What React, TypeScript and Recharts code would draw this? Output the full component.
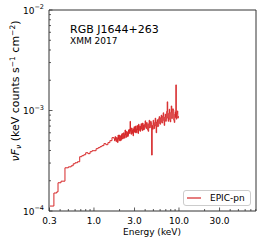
import { LineChart, Line, XAxis, YAxis, Legend, ReferenceArea } from 'recharts';

// spectrum (keV, keV counts s^-1 cm^-2)
const energy = [
  0.303, 0.338, 0.365, 0.378, 0.41, 0.456, 0.5, 0.54, 0.57, 0.6, 0.64, 0.68, 0.72, 0.76, 0.8, 0.85, 0.9, 0.95,
  1.0, 1.06, 1.12, 1.18, 1.24, 1.31, 1.38, 1.46, 1.54, 1.63,
  1.72, 1.745, 1.77, 1.795, 1.82, 1.845, 1.87, 1.895, 1.92, 1.945,
  1.97, 1.995, 2.02, 2.05, 2.08, 2.11, 2.14, 2.17, 2.2, 2.23,
  2.26, 2.29, 2.32, 2.35, 2.38, 2.41, 2.45, 2.48, 2.52, 2.55,
  2.59, 2.62, 2.66, 2.69, 2.73, 2.77, 2.81, 2.84, 2.88, 2.92,
  2.96, 3.0, 3.04, 3.08, 3.13, 3.17, 3.21, 3.25, 3.3, 3.34,
  3.39, 3.44, 3.49, 3.53, 3.58, 3.63, 3.68, 3.73, 3.78, 3.83,
  3.89, 3.94, 4.0, 4.05, 4.11, 4.16, 4.22, 4.28, 4.34, 4.4,
  4.46, 4.52, 4.58, 4.64, 4.71, 4.77, 4.84, 4.9, 4.97, 5.04,
  5.11, 5.18, 5.25, 5.32, 5.39, 5.46, 5.54, 5.61, 5.69, 5.77,
  5.85, 5.93, 6.01, 6.09, 6.18, 6.26, 6.35, 6.43, 6.52, 6.61,
  6.7, 6.79, 6.89, 6.98, 7.08, 7.17, 7.27, 7.37, 7.47, 7.57,
  7.68, 7.78, 7.89, 8.0, 8.11, 8.22, 8.33, 8.44, 8.56, 8.68,
  8.8, 8.92, 9.04, 9.12, 9.2, 9.29, 9.42, 9.55, 9.68, 9.81,
  10.0,
];
const flux = [
  1.12e-4, 1.51e-4, 1.55e-4, 1.91e-4, 1.98e-4, 2.69e-4, 2.75e-4, 2.82e-4, 2.95e-4, 3.02e-4, 3.09e-4, 3.47e-4,
  3.55e-4, 3.63e-4, 3.8e-4, 3.72e-4, 3.89e-4, 3.98e-4,
  3.98e-4, 4.17e-4, 4.27e-4, 4.37e-4, 4.47e-4, 4.68e-4, 4.57e-4, 4.79e-4, 5.01e-4, 5.37e-4,
  5.25e-4, 5.0e-4, 5.5e-4, 5.1e-4, 4.9e-4, 5.4e-4, 5.3e-4, 4.8e-4, 5.7e-4, 5.2e-4,
  5.0e-4, 5.7e-4, 5.6e-4, 5.0e-4, 5.1e-4, 5.8e-4, 5.9e-4, 5.2e-4, 5.3e-4, 6.0e-4,
  5.8e-4, 5.3e-4, 6.4e-4, 5.7e-4, 5.4e-4, 6.2e-4, 6.1e-4, 5.5e-4, 5.6e-4, 6.4e-4,
  6.5e-4, 5.9e-4, 7.8e-4, 6.2e-4, 5.8e-4, 6.7e-4, 6.5e-4, 5.9e-4, 5.6e-4, 6.6e-4,
  6.9e-4, 6.1e-4, 6.0e-4, 7.0e-4, 6.6e-4, 6.0e-4, 7.1e-4, 6.4e-4, 5.9e-4, 7.3e-4,
  7.0e-4, 6.3e-4, 6.2e-4, 7.0e-4, 7.4e-4, 6.5e-4, 6.3e-4, 7.5e-4, 7.2e-4, 6.4e-4,
  6.5e-4, 7.3e-4, 7.9e-4, 6.8e-4, 6.6e-4, 7.6e-4, 7.3e-4, 6.4e-4, 6.2e-4, 7.4e-4,
  8.0e-4, 6.7e-4, 6.9e-4, 7.8e-4, 7.5e-4, 3.6e-4, 7.1e-4, 6.5e-4, 8.0e-4, 7.2e-4,
  6.6e-4, 7.6e-4, 8.4e-4, 7.0e-4, 6.0e-4, 7.7e-4, 8.1e-4, 6.9e-4, 7.0e-4, 8.3e-4,
  8.7e-4, 7.4e-4, 7.3e-4, 8.5e-4, 9.0e-4, 7.6e-4, 7.5e-4, 8.8e-4, 9.5e-4, 7.9e-4,
  7.1e-4, 8.6e-4, 9.2e-4, 7.8e-4, 8.2e-4, 9.8e-4, 1.22e-3, 8.4e-4, 7.8e-4, 9.4e-4,
  1.03e-3, 8.1e-4, 7.7e-4, 9.6e-4, 1.11e-3, 8.3e-4, 8.5e-4, 1.04e-3, 1.01e-3, 8.0e-4,
  7.6e-4, 9.2e-4, 9.7e-4, 8.5e-4, 1.8e-3, 8.2e-4, 9.3e-4, 9.9e-4, 8.4e-4, 8.7e-4,
  8.7e-4,
];

const xTicks = [0.3, 0.4, 0.5, 0.6, 0.7, 0.8, 0.9, 1, 2, 3, 4, 5, 6, 7, 8, 9, 10, 20, 30, 40, 50, 60, 70, 80];
const xMajor = [0.3, 1, 3, 10, 30];
const xLabels = ['0.3', '1.0', '3.0', '10.0', '30.0'];
const yTicks = [
  1e-4, 2e-4, 3e-4, 4e-4, 5e-4, 6e-4, 7e-4, 8e-4, 9e-4,
  1e-3, 2e-3, 3e-3, 4e-3, 5e-3, 6e-3, 7e-3, 8e-3, 9e-3, 1e-2,
];
const yMajor = [1e-4, 1e-3, 1e-2];
const yExps = ['−4', '−3', '−2'];

const data = energy.map((e, i) => ({ energy: e, flux: flux[i] }));

const XTick = ({ x, y, payload }) => {
  const k = xMajor.findIndex((v) => Math.abs(v - payload.value) < 1e-9);
  return (
    <g>
      <line x1={x} x2={x} y1={y} y2={y - (k >= 0 ? 3.5 : 2)} stroke="#333" strokeWidth={0.8} />
      {k >= 0 && (
        <text x={x} y={y + 13} textAnchor="middle" fontSize={9} fill="#000">{xLabels[k]}</text>
      )}
    </g>
  );
};

const YTick = ({ x, y, payload }) => {
  const k = yMajor.findIndex((v) => Math.abs(v - payload.value) / v < 1e-6);
  return (
    <g>
      <line x1={x} x2={x + (k >= 0 ? 3.5 : 2)} y1={y} y2={y} stroke="#333" strokeWidth={0.8} />
      {k >= 0 && (
        <text x={x - 5} y={y + 3.5} textAnchor="end" fontSize={9} fill="#000">
          10<tspan dy={-4.5} fontSize={6.5}>{yExps[k]}</tspan>
        </text>
      )}
    </g>
  );
};

const LegendBox = () => (
  <div style={{
    width: 68, height: 16, boxSizing: 'border-box', border: '1px solid #ccc', borderRadius: 3,
    background: '#fff', display: 'flex', alignItems: 'center', fontSize: 9, color: '#000',
  }}>
    <svg width={26} height={14}>
      <line x1={3} x2={17} y1={7} y2={7} stroke="#d62728" strokeWidth={1.2} />
    </svg>
    <span>EPIC-pn</span>
  </div>
);

export default function App() {
  return (
    <div style={{ position: 'relative', width: 266, height: 246, fontFamily: '"DejaVu Sans", sans-serif' }}>
      <style>{'body { margin: 0; }'}</style>
      <LineChart width={266} height={246} data={data} margin={{ top: 10, right: 10, left: 0, bottom: 0 }}>
        <XAxis dataKey="energy" type="number" scale="log" domain={[0.296, 80.5]} allowDataOverflow
          ticks={xTicks} interval={0} tick={<XTick />} tickLine={false} axisLine={false}
          tickSize={0} tickMargin={0} height={35} />
        <YAxis type="number" scale="log" domain={[1e-4, 1e-2]} allowDataOverflow
          ticks={yTicks} interval={0} tick={<YTick />} tickLine={false} axisLine={false}
          tickSize={0} tickMargin={0} width={49} />
        <ReferenceArea x1={0.296} x2={80.5} y1={1e-4} y2={1e-2} fill="none" stroke="#333" strokeWidth={1} />
        <Line type="stepAfter" dataKey="flux" stroke="#d62728" strokeWidth={1} dot={false}
          isAnimationActive={false} name="EPIC-pn" />
        <Legend layout="vertical" align="center" verticalAlign="middle" content={<LegendBox />}
          wrapperStyle={{ left: 183, top: 190, width: 68 }} />
      </LineChart>
      <svg width={266} height={246} style={{ position: 'absolute', left: 0, top: 0, pointerEvents: 'none' }}>
        <text x={70} y={33} fontSize={11} fill="#000">RGB J1644+263</text>
        <text x={70} y={44} fontSize={9} fill="#000">XMM 2017</text>
        <text x={152} y={235} fontSize={9} textAnchor="middle" fill="#000">Energy (keV)</text>
        <text x={19} y={91} fontSize={11} textAnchor="middle" fill="#000" transform="rotate(-90 19 91)">
          <tspan fontStyle="italic">νF</tspan>
          <tspan dy={2} fontSize={7.5} fontStyle="italic">ν</tspan>
          <tspan dy={-2}> (keV counts s</tspan>
          <tspan dy={-4} fontSize={7.5}>−1</tspan>
          <tspan dy={4}> cm</tspan>
          <tspan dy={-4} fontSize={7.5}>−2</tspan>
          <tspan dy={4}>)</tspan>
        </text>
      </svg>
    </div>
  );
}
